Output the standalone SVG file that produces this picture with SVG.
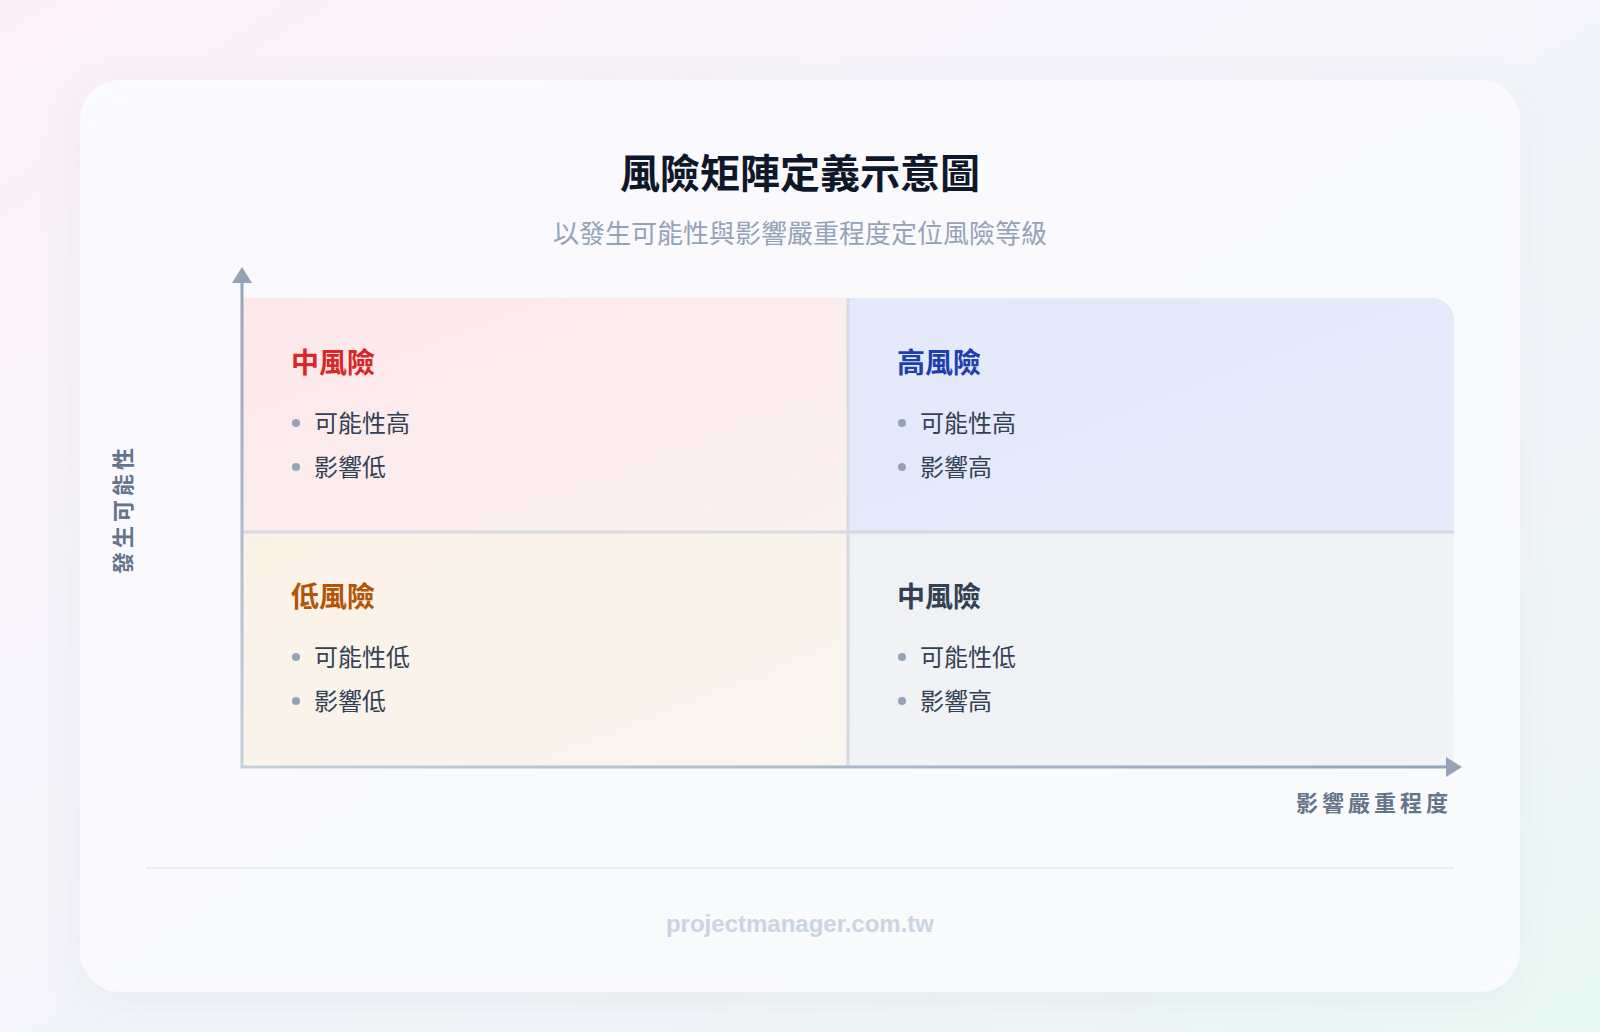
<svg xmlns="http://www.w3.org/2000/svg" width="1600" height="1032" viewBox="0 0 1600 1032">
  <defs>
    <linearGradient id="bg" x1="0" y1="0" x2="1" y2="1">
      <stop offset="0" stop-color="#fdf1f8"/>
      <stop offset="0.35" stop-color="#f6f5fb"/>
      <stop offset="0.7" stop-color="#f2f5f9"/>
      <stop offset="1" stop-color="#ebfaf5"/>
    </linearGradient>
    <linearGradient id="gTL" x1="0" y1="0" x2="1" y2="1">
      <stop offset="0" stop-color="#fde7ea"/>
      <stop offset="1" stop-color="#fbf1f1"/>
    </linearGradient>
    <linearGradient id="gTR" x1="0" y1="0" x2="1" y2="1">
      <stop offset="0" stop-color="#e4e9fb"/>
      <stop offset="1" stop-color="#e5ebf8"/>
    </linearGradient>
    <linearGradient id="gBL" x1="0" y1="0" x2="1" y2="1">
      <stop offset="0" stop-color="#fbf2e7"/>
      <stop offset="1" stop-color="#f9f5ef"/>
    </linearGradient>
    <linearGradient id="gBR" x1="0" y1="0" x2="1" y2="1">
      <stop offset="0" stop-color="#eff1f5"/>
      <stop offset="1" stop-color="#f1f3f6"/>
    </linearGradient>
    <linearGradient id="gAxisX" gradientUnits="userSpaceOnUse" x1="242" y1="0" x2="1462" y2="0">
      <stop offset="0" stop-color="#c6cfdc"/>
      <stop offset="1" stop-color="#94a3b8"/>
    </linearGradient>
    <linearGradient id="gAxisY" gradientUnits="userSpaceOnUse" x1="0" y1="767" x2="0" y2="267">
      <stop offset="0" stop-color="#c6cfdc"/>
      <stop offset="1" stop-color="#94a3b8"/>
    </linearGradient>
    <filter id="shadow" x="-10%" y="-10%" width="120%" height="125%">
      <feDropShadow dx="0" dy="10" stdDeviation="18" flood-color="#64748b" flood-opacity="0.10"/>
    </filter>
  </defs>
  <style>
    .cjk { font-family: "Noto Sans CJK TC", "Noto Sans CJK SC", sans-serif; }
    .title { font-size: 40px; font-weight: 700; fill: #0f172a; }
    .sub { font-size: 26px; font-weight: 400; fill: #94a3b8; }
    .qlabel { font-size: 28px; font-weight: 700; }
    .item { font-size: 24px; font-weight: 400; fill: #334155; }
    .dot { fill: #94a3b8; }
    .axislabel { font-size: 22px; font-weight: 700; fill: #64748b; letter-spacing: 4px; }
    .divider { stroke: #d5dae4; stroke-width: 3; }
    .footer { font-family: "Liberation Sans", Arial, sans-serif; font-size: 24px; font-weight: 700; fill: #cbd5e1; }
  </style>

  <rect x="0" y="0" width="1600" height="1032" fill="url(#bg)"/>

  <g id="card">
    <rect x="80" y="80" width="1440" height="912" rx="40" ry="40" fill="#fbfcfe" fill-opacity="0.85" filter="url(#shadow)"/>
  </g>

  <g id="header">
    <text class="cjk title" x="800" y="188" text-anchor="middle">風險矩陣定義示意圖</text>
    <text class="cjk sub" x="800" y="243" text-anchor="middle">以發生可能性與影響嚴重程度定位風險等級</text>
  </g>

  <g id="quadrant-top-left">
    <rect x="243" y="298" width="605" height="234" fill="url(#gTL)"/>
    <text class="cjk qlabel" x="291" y="373" fill="#dc2626">中風險</text>
    <circle class="dot" cx="296" cy="423" r="4"/>
    <text class="cjk item" x="314" y="432">可能性高</text>
    <circle class="dot" cx="296" cy="467" r="4"/>
    <text class="cjk item" x="314" y="476">影響低</text>
  </g>

  <g id="quadrant-top-right">
    <path d="M848 298 H1432 A22 22 0 0 1 1454 320 V532 H848 Z" fill="url(#gTR)"/>
    <text class="cjk qlabel" x="897" y="373" fill="#1e40af">高風險</text>
    <circle class="dot" cx="902" cy="423" r="4"/>
    <text class="cjk item" x="920" y="432">可能性高</text>
    <circle class="dot" cx="902" cy="467" r="4"/>
    <text class="cjk item" x="920" y="476">影響高</text>
  </g>

  <g id="quadrant-bottom-left">
    <rect x="243" y="532" width="605" height="234" fill="url(#gBL)"/>
    <text class="cjk qlabel" x="291" y="607" fill="#b45309">低風險</text>
    <circle class="dot" cx="296" cy="657" r="4"/>
    <text class="cjk item" x="314" y="666">可能性低</text>
    <circle class="dot" cx="296" cy="701" r="4"/>
    <text class="cjk item" x="314" y="710">影響低</text>
  </g>

  <g id="quadrant-bottom-right">
    <rect x="848" y="532" width="606" height="234" fill="url(#gBR)"/>
    <text class="cjk qlabel" x="897" y="607" fill="#334155">中風險</text>
    <circle class="dot" cx="902" cy="657" r="4"/>
    <text class="cjk item" x="920" y="666">可能性低</text>
    <circle class="dot" cx="902" cy="701" r="4"/>
    <text class="cjk item" x="920" y="710">影響高</text>
  </g>

  <g id="connectors">
    <line class="divider" x1="848" y1="298" x2="848" y2="766"/>
    <line class="divider" x1="243" y1="532" x2="1454" y2="532"/>
    <line x1="242" y1="767" x2="1448" y2="767" stroke="url(#gAxisX)" stroke-width="3"/>
    <polygon points="1462,767 1446,757 1446,777" fill="#94a3b8"/>
    <line x1="242" y1="768.5" x2="242" y2="281" stroke="url(#gAxisY)" stroke-width="3"/>
    <polygon points="242,267 232,283 252,283" fill="#94a3b8"/>
  </g>

  <g id="axis-labels">
    <text class="cjk axislabel" x="1452" y="811" text-anchor="end">影響嚴重程度</text>
    <text class="cjk axislabel" x="131" y="509" text-anchor="middle" transform="rotate(-90 131 509)">發生可能性</text>
  </g>

  <g id="footer">
    <line x1="146" y1="868" x2="1454" y2="868" stroke="#e8ecf1" stroke-width="2"/>
    <text class="footer" x="800" y="932" text-anchor="middle">projectmanager.com.tw</text>
  </g>
</svg>
